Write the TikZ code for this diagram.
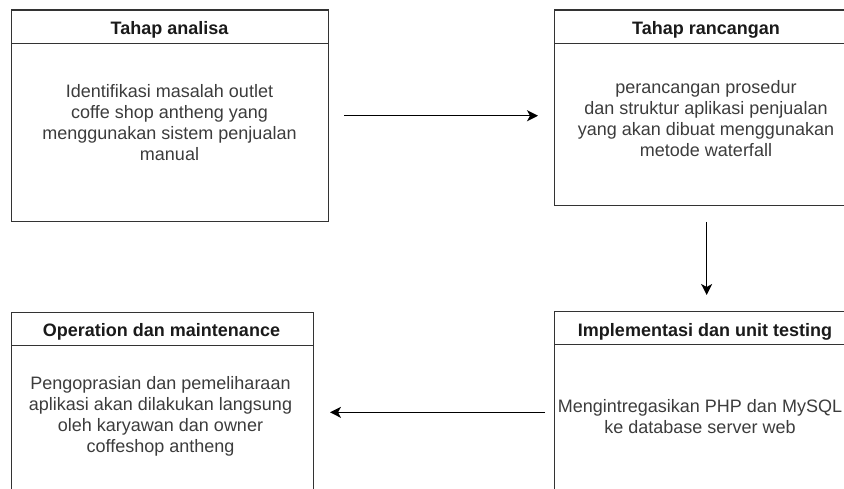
\documentclass[tikz,border=0pt]{standalone}
\usepackage{fontspec}
\setmainfont{Liberation Sans}
\usetikzlibrary{arrows.meta}
\definecolor{edge}{HTML}{333333}
\definecolor{titletext}{HTML}{1A1A1A}
\definecolor{bodytext}{HTML}{3C3C3C}

\begin{document}
\begin{tikzpicture}[x=1pt,y=-1pt,
  frame/.style={draw=edge, line width=1.3pt, rectangle, anchor=north west, inner sep=0pt},
  divider/.style={draw=edge, line width=1.3pt},
  title/.style={font=\fontsize{18}{21}\selectfont\bfseries, text=titletext, anchor=base, inner sep=0pt},
  body/.style={font=\fontsize{18}{21}\selectfont, text=bodytext, align=center, anchor=center, inner sep=0pt},
  flow/.style={draw=black, line width=1.3pt, -{Stealth[length=11pt,width=11pt,inset=3pt]}}]
\useasboundingbox (0,0) rectangle (844,489);
\clip (0,0) rectangle (844,489);

% the four phase boxes
\node[frame, minimum width=317pt, minimum height=211.2pt] (analisa) at (11,9.5) {};
\node[frame, minimum width=304pt, minimum height=195.5pt] (rancangan) at (554,9.5) {};
\node[frame, minimum width=301.7pt, minimum height=200pt] (operation) at (11,311.7) {};
\node[frame, minimum width=304pt, minimum height=202pt] (implementasi) at (554,310.7) {};

% header separators
\foreach \b in {analisa,rancangan,operation,implementasi}
  \draw[divider] ([yshift=-34pt]\b.north west) -- ([yshift=-34pt]\b.north east);

% headers
\node[title] (t1) at (169.5,34.3) {Tahap analisa};
\node[title] (t2) at (706,34.3) {Tahap rancangan};
\node[title] (t3) at (161.5,336) {Operation dan maintenance};
\node[title] (t4) at (705,336) {Implementasi dan unit testing};

% descriptions
\node[body] (b1) at (169.5,123) {Identifikasi masalah outlet\\coffe shop antheng yang\\menggunakan sistem penjualan\\manual};
\node[body] (b2) at (706,119) {perancangan prosedur\\dan struktur aplikasi penjualan\\yang akan dibuat menggunakan\\metode waterfall};
\node[body] (b3) at (160.5,416) {Pengoprasian dan pemeliharaan\\aplikasi akan dilakukan langsung\\oleh karyawan dan owner\\coffeshop antheng};
\node[body] (b4) at (700,417) {Mengintregasikan PHP dan MySQL\\ke database server web};

% flow between phases
\draw[flow] ([xshift=15pt]analisa.east) -- ([xshift=-16pt]analisa.east -| rancangan.west);
\draw[flow] ([yshift=-15.7pt]rancangan.south) -- ([yshift=15.7pt]implementasi.north);
\draw[flow] ([xshift=-9pt]implementasi.west) -- ([xshift=16pt]implementasi.west -| operation.east);
\end{tikzpicture}
\end{document}
